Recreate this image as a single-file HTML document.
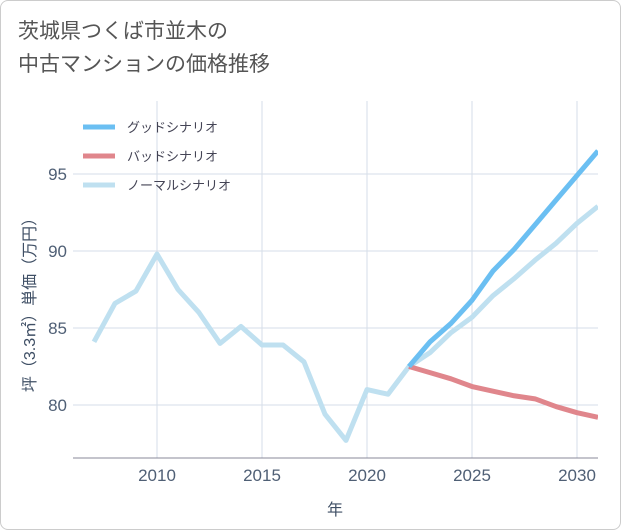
<!DOCTYPE html>
<html><head><meta charset="utf-8"><style>
body{margin:0;background:#fff;}
#wrap{position:relative;width:619px;height:528px;border:1px solid #ccc;border-radius:8px;background:#fff;overflow:hidden;font-family:"Liberation Sans","Noto Sans CJK JP",sans-serif;}
#title{position:absolute;left:17px;top:14px;font-size:21px;line-height:33px;color:#555;}
</style></head><body>
<div id="wrap">
<div id="title">茨城県つくば市並木の<br>中古マンションの価格推移</div>
<svg id="chart" width="621" height="530" style="position:absolute;left:0;top:0"></svg>
</div>
<script>
const years=[2007,2008,2009,2010,2011,2012,2013,2014,2015,2016,2017,2018,2019,2020,2021,2022,2023,2024,2025,2026,2027,2028,2029,2030,2031];
const normal=[84.1,86.6,87.4,89.8,87.5,86.0,84.0,85.1,83.9,83.9,82.8,79.4,77.7,81.0,80.7,82.5,83.4,84.7,85.7,87.1,88.2,89.4,90.5,91.8,92.9];
const futureYears=[2022,2023,2024,2025,2026,2027,2028,2029,2030,2031];
const good=[82.5,84.1,85.3,86.8,88.7,90.1,91.7,93.3,94.9,96.5];
const bad=[82.5,82.1,81.7,81.2,80.9,80.6,80.4,79.9,79.5,79.2];
const xTicks=[2010,2015,2020,2025,2030];
const yTicks=[80,85,90,95];
const L=72,R=597,T=100,B=457;
const x=v=>156+(v-2010)*21;
const y=v=>404-(v-80)*15.4;
const svg=document.getElementById('chart');
const NS='http://www.w3.org/2000/svg';
function mk(t,a,p){const e=document.createElementNS(NS,t);for(const k in a)e.setAttribute(k,a[k]);(p||svg).appendChild(e);return e;}
const defs=mk('defs',{});const cp=mk('clipPath',{id:'clip'},defs);mk('rect',{x:L,y:T,width:R-L,height:B-T},cp);
xTicks.forEach(v=>{const g=mk('line',{x1:x(v),x2:x(v),y1:T,y2:B,stroke:'#d5dde8'});

const t=mk('text',{x:x(v),y:480,'text-anchor':'middle','font-size':17,fill:'#4f5f75'});t.textContent=v;
});
yTicks.forEach(v=>{const g=mk('line',{x1:L,x2:R,y1:y(v),y2:y(v),stroke:'#d5dde8'});

const t=mk('text',{x:66,y:y(v)+6,'text-anchor':'end','font-size':17,fill:'#4f5f75'});t.textContent=v;
});
const ax=mk('line',{x1:L,x2:R,y1:B,y2:B,stroke:'#889'});
const xt=mk('text',{x:334,y:514,'text-anchor':'middle','font-size':16,fill:'#3f4f65'});xt.textContent='年';

const yt=mk('text',{x:0,y:0,'text-anchor':'middle','font-size':16,fill:'#3f4f65',transform:'translate(34,300) rotate(-90)'});yt.textContent='坪（3.3㎡）単価（万円）';

function line(xs,vs,c,name){const p=mk('polyline',{points:xs.map((v,i)=>x(v)+','+y(vs[i])).join(' '),fill:'none',stroke:c,'stroke-width':5,'stroke-linejoin':'round','clip-path':'url(#clip)'});
}
line(years,normal,'#bfe0f0','normal-scenario-line');
line(futureYears,bad,'#e0868c','bad-scenario-line');
line(futureYears,good,'#6bbff2','good-scenario-line');
[['グッドシナリオ','#6bbff2'],['バッドシナリオ','#e0868c'],['ノーマルシナリオ','#bfe0f0']].forEach((d,i)=>{
const yy=126+i*29;const l=mk('line',{x1:82,x2:114,y1:yy,y2:yy,stroke:d[1],'stroke-width':5});

const t=mk('text',{x:126,y:yy+5,'font-size':13,fill:'#445'});t.textContent=d[0];
});
</script>
</body></html>
